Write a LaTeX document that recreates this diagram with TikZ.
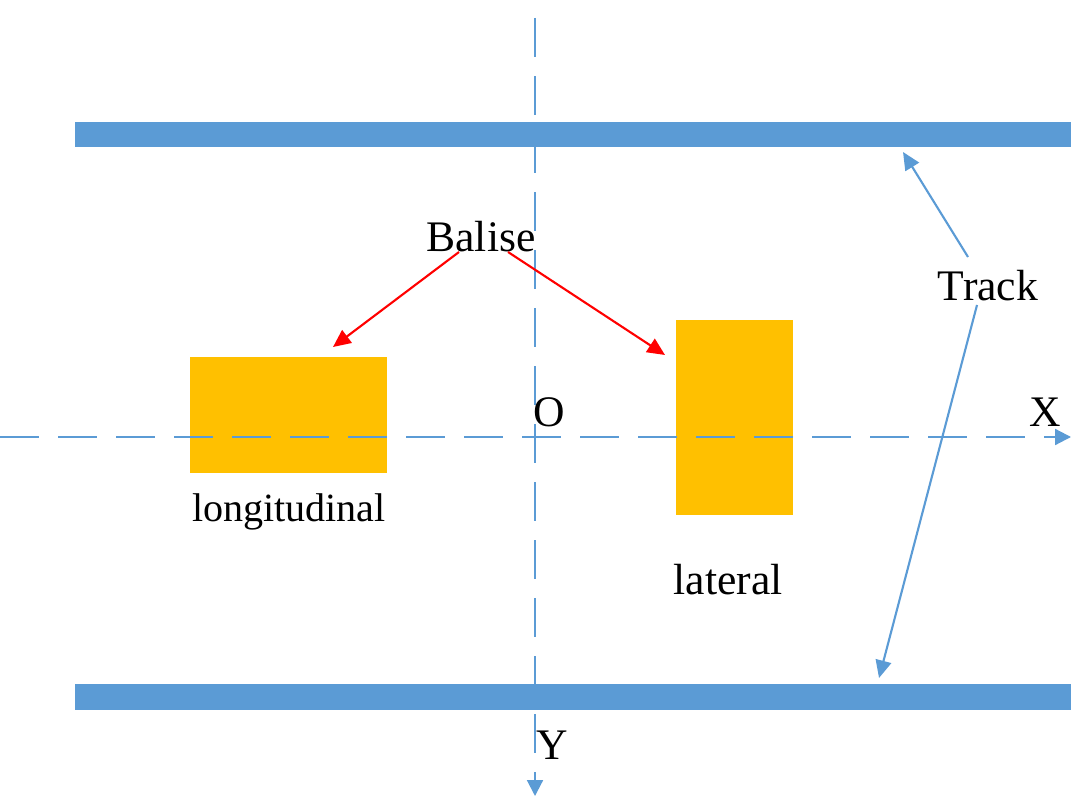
\documentclass[tikz,border=0pt]{standalone}
\usepackage{fontspec}
\setmainfont{Liberation Serif}
\usetikzlibrary{arrows.meta,positioning}
\definecolor{Tc}{HTML}{5B9BD5}
\definecolor{Bc}{HTML}{FFC000}
\definecolor{Rc}{HTML}{FF0000}
\tikzset{
  rail/.style={fill=Tc, draw=none},
  balisebox/.style={fill=Bc, draw=none},
  axis/.style={Tc, line width=0.6pt, dash pattern=on 11pt off 5.5pt, -{Triangle[length=4.5pt,width=4.5pt]}},
  lbl/.style={font=\fontsize{12.4pt}{14pt}\selectfont, inner sep=0pt},
  redlink/.style={Rc, line width=0.6pt, -{Triangle[length=5pt,width=4.5pt]}},
  bluelink/.style={Tc, line width=0.6pt, -{Triangle[length=5pt,width=4.5pt]}},
}

\begin{document}
\begin{tikzpicture}[x=0.01cm, y=-0.01cm]
  \useasboundingbox (0,0) rectangle (1071,798);
  % tracks
  \fill[rail] (75,122) rectangle (1071,147);
  \fill[rail] (75,684) rectangle (1071,710);
  % balises
  \fill[balisebox] (190,357) rectangle (387,473);
  \fill[balisebox] (676,320) rectangle (793,515);
  % axes
  \coordinate (xs) at (0,437);
  \coordinate (xe) at (1071,437);
  \coordinate (ys) at (535,18);
  \coordinate (ye) at (535,796);
  \draw[axis] (xs) -- (xe);
  \draw[axis] (ys) -- (ye);
  % labels
  \node[lbl] (balise) at (481,237) {Balise};
  \node[lbl] (track) at (988,286) {Track};
  \node[lbl] (o) at (549,412) {O};
  \node[lbl] (x) at (1045,412) {X};
  \node[lbl] (y) at (552,745) {Y};
  \node[lbl, font=\fontsize{11.4pt}{13pt}\selectfont] (lon) at (289,512) {longitudinal};
  \node[lbl] (lat) at (728,580) {lateral};
  % arrows
  \coordinate (b1) at (333,347);
  \coordinate (b2) at (665,355);
  \coordinate (t1) at (903,152);
  \coordinate (t2) at (879,678);
  \draw[redlink] (459,252) -- (b1);
  \draw[redlink] (508,252) -- (b2);
  \draw[bluelink] (968,257) -- (t1);
  \draw[bluelink] (977,305) -- (t2);
\end{tikzpicture}
\end{document}
